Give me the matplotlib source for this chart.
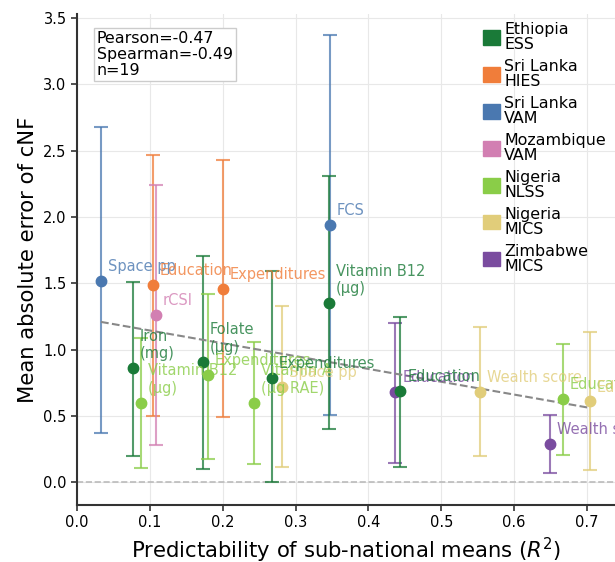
import matplotlib
matplotlib.use("Agg")
import matplotlib.pyplot as plt
import matplotlib.patches as mpatches
import numpy as np

# ---- data ----
surveys = ["Ethiopia\nESS", "Sri Lanka\nHIES", "Sri Lanka\nVAM", "Mozambique\nVAM",
           "Nigeria\nNLSS", "Nigeria\nMICS", "Zimbabwe\nMICS"]
survey_colors = ["#1a7a38", "#f07d3a", "#4a78b0", "#d27fb2", "#8acd48", "#e1cd7a", "#7a4c9f"]

point_survey = [2, 0, 4, 1, 3, 0, 4, 1, 4, 0, 5, 2, 0, 6, 0, 5, 6, 4, 5]
point_label = ["Space pp", "Iron\n(mg)", "Vitamin B12\n(µg)", "Education", "rCSI",
               "Folate\n(µg)", "Expenditures", "Expenditures", "Vitamin A\n(µg RAE)",
               "Expenditures", "Space pp", "FCS", "Vitamin B12\n(µg)", "Education",
               "Education", "Wealth score", "Wealth score", "Education", "Education"]
r2 = [0.033, 0.077, 0.088, 0.104, 0.108, 0.173, 0.180, 0.200, 0.243, 0.267,
      0.281, 0.347, 0.346, 0.437, 0.444, 0.553, 0.649, 0.667, 0.704]
mae = [1.52, 0.86, 0.60, 1.49, 1.26, 0.91, 0.81, 1.46, 0.60, 0.79,
       0.72, 1.94, 1.35, 0.68, 0.69, 0.68, 0.29, 0.63, 0.61]
err_lo = [0.37, 0.20, 0.11, 0.50, 0.28, 0.10, 0.18, 0.49, 0.14, 0.00,
          0.12, 0.51, 0.40, 0.15, 0.12, 0.20, 0.07, 0.21, 0.09]
err_hi = [2.68, 1.51, 1.09, 2.47, 2.24, 1.71, 1.42, 2.43, 1.06, 1.59,
          1.33, 3.37, 2.31, 1.20, 1.25, 1.17, 0.51, 1.04, 1.13]
stats_text = "Pearson=-0.47\nSpearman=-0.49\nn=19"

xlabel = "Predictability of sub-national means ($R^2$)"
ylabel = "Mean absolute error of cNF"
xticks = [0.0, 0.1, 0.2, 0.3, 0.4, 0.5, 0.6, 0.7]
yticks = [0.0, 0.5, 1.0, 1.5, 2.0, 2.5, 3.0, 3.5]

# ---- figure ----
W, H = 615, 562
fig = plt.figure(figsize=(W / 100, H / 100), dpi=100)
left_px, bottom_px, top_px = 77, 505, 14
ax = fig.add_axes([left_px / W, (H - bottom_px) / H, 1 - left_px / W, (bottom_px - top_px) / H])
ax.set_xlim(0, (W - left_px) / 728.6)
ax.set_ylim(-0.17, 3.53)

ax.grid(True, color="#e8e8e8", linewidth=0.8, zorder=0)
ax.set_axisbelow(True)
ax.axhline(0, color="#bbbbbb", linestyle="--", linewidth=1.2, zorder=1)

for i in range(len(r2)):
    c = survey_colors[point_survey[i]]
    ax.errorbar(r2[i], mae[i],
                yerr=[[mae[i] - err_lo[i]], [err_hi[i] - mae[i]]],
                fmt="none", ecolor=c, elinewidth=1.5, capsize=5, capthick=1.5,
                alpha=0.75, zorder=2)
    ax.plot(r2[i], mae[i], "o", color=c, markersize=7.5, zorder=3)
    ax.annotate(point_label[i], (r2[i], mae[i]), xytext=(5, 5), textcoords="offset points",
                ha="left", va="bottom", fontsize=10.5, color=c, alpha=0.8,
                annotation_clip=False, zorder=4)

# regression trend
x_arr = np.array(r2)
y_arr = np.array(mae)
slope, intercept = np.polyfit(x_arr, y_arr, 1)
xs = np.array([x_arr.min(), x_arr.max()])
ax.plot(xs, slope * xs + intercept, linestyle="--", color="#888888", linewidth=1.5, zorder=2.5)

ax.set_xticks(xticks)
ax.set_yticks(yticks)
ax.tick_params(labelsize=10.5, length=4, width=1.2, color="#333333")
for s in ["top", "right"]:
    ax.spines[s].set_visible(False)
for s in ["left", "bottom"]:
    ax.spines[s].set_linewidth(1.5)
    ax.spines[s].set_color("#333333")
ax.set_xlabel(xlabel, fontsize=15.2)
ax.set_ylabel(ylabel, fontsize=15.2)

fig.text(97 / W, 1 - 31 / H, stats_text, ha="left", va="top", fontsize=11.4,
         linespacing=1.08,
         bbox=dict(boxstyle="square,pad=0.2", fc="white", ec="#cccccc", lw=1))

handles = [mpatches.Patch(color=c, label=s) for s, c in zip(surveys, survey_colors)]
leg = fig.legend(handles=handles, loc="upper left", bbox_to_anchor=(483 / W, 1 - 22 / H),
                 frameon=False, borderpad=0, borderaxespad=0, fontsize=11.4,
                 handlelength=1.1, handleheight=1.0, handletextpad=0.25, labelspacing=0.44)
for t in leg.get_texts():
    t.set_linespacing(1.0)

fig.savefig("out.png", dpi=100)
